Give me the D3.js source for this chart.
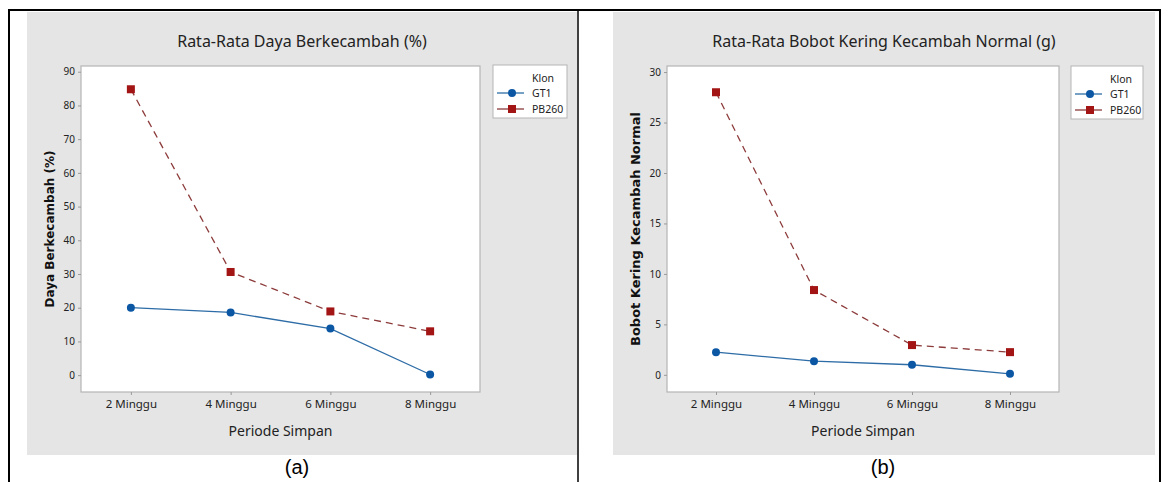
<!DOCTYPE html>
<html>
<head>
<meta charset="utf-8">
<script src="https://cdn.jsdelivr.net/npm/d3@7"></script>
<style>
  body { margin: 0; background: #fff; }
  svg { display: block; }
  text { font-family: "Noto Sans", "Open Sans", sans-serif; }
</style>
</head>
<body>
<svg id="chart" width="1171" height="482"></svg>
<script>
// data
const periods = ["2 Minggu", "4 Minggu", "6 Minggu", "8 Minggu"];
const klon = ["GT1", "PB260"];
const dayaGT1 = [20.0, 18.6, 13.8, 0.2];
const dayaPB260 = [84.8, 30.6, 18.9, 13.0];
const bobotGT1 = [2.25, 1.35, 1.0, 0.1];
const bobotPB260 = [28.0, 8.4, 2.95, 2.25];
const dayaTicks = [0, 10, 20, 30, 40, 50, 60, 70, 80, 90];
const bobotTicks = [0, 5, 10, 15, 20, 25, 30];

const blue = "#0b57a4", blueLine = "#2d6ca6";
const red = "#a31515", redLine = "#8c3a3a";

const svg = d3.select("#chart");

// outer frame and divider
svg.append("rect")
  .attr("x", 9).attr("y", 10).attr("width", 1151).attr("height", 490)
  .attr("fill", "none").attr("stroke", "#000").attr("stroke-width", 2);
svg.append("line")
  .attr("x1", 578).attr("x2", 578).attr("y1", 10).attr("y2", 482)
  .attr("stroke", "#000").attr("stroke-width", 1.5);

function drawPanel(p) {
  const g = svg.append("g");

  g.append("rect")
    .attr("x", p.bg[0]).attr("y", 12)
    .attr("width", p.bg[1] - p.bg[0]).attr("height", 443)
    .attr("fill", "#e5e5e5");

  g.append("rect")
    .attr("x", p.left).attr("y", 66)
    .attr("width", p.right - p.left).attr("height", 392 - 66)
    .attr("fill", "#fff").attr("stroke", "#b5b5b5").attr("stroke-width", 1.2);

  const x = d3.scalePoint().domain(periods).range([p.left, p.right]).padding(0.5);
  const y = d3.scaleLinear().domain(p.domain).range([392, 66]);

  const ya = g.append("g")
    .attr("transform", `translate(${p.left},0)`)
    .call(d3.axisLeft(y).tickValues(p.ticks).tickSize(3).tickPadding(3));
  ya.select(".domain").remove();
  ya.selectAll("line").attr("stroke", "#9a9a9a");
  ya.selectAll("text").attr("fill", "#222").style("font-size", "10px");

  const xa = g.append("g")
    .attr("transform", "translate(0,392)")
    .call(d3.axisBottom(x).tickSize(3).tickPadding(5));
  xa.select(".domain").remove();
  xa.selectAll("line").attr("stroke", "#9a9a9a");
  xa.selectAll("text").attr("fill", "#222").style("font-size", "11.5px");

  // title
  g.append("text")
    .attr("x", (p.bg[0] + p.bg[1]) / 2).attr("y", 47)
    .attr("text-anchor", "middle").attr("fill", "#222")
    .style("font-size", "16px")
    .text(p.title);

  // axis titles
  g.append("text")
    .attr("x", (p.left + p.right) / 2).attr("y", 436)
    .attr("text-anchor", "middle").attr("fill", "#222")
    .style("font-size", "14px")
    .text("Periode Simpan");
  g.append("text")
    .attr("transform", `translate(${p.ytX},229) rotate(-90)`)
    .attr("text-anchor", "middle").attr("fill", "#111")
    .style("font-family", "'DejaVu Sans', sans-serif")
    .style("font-weight", "bold")
    .style("font-size", p.ytSize)
    .text(p.ytitle);

  // series
  const line = d3.line().x((d, i) => x(periods[i])).y(d => y(d));
  g.append("path").datum(p.gt1)
    .attr("d", line).attr("fill", "none")
    .attr("stroke", blueLine).attr("stroke-width", 1.3);
  g.append("path").datum(p.pb)
    .attr("d", line).attr("fill", "none")
    .attr("stroke", redLine).attr("stroke-width", 1.3)
    .attr("stroke-dasharray", "7,5");

  g.selectAll(".dot").data(p.gt1).enter().append("circle")
    .attr("cx", (d, i) => x(periods[i])).attr("cy", d => y(d))
    .attr("r", 4).attr("fill", blue);
  g.selectAll(".sq").data(p.pb).enter().append("rect")
    .attr("x", (d, i) => x(periods[i]) - 4).attr("y", d => y(d) - 4)
    .attr("width", 8).attr("height", 8).attr("fill", red);

  // legend
  const lg = g.append("g").attr("transform", `translate(${p.leg[0]},${p.leg[1]})`);
  lg.append("rect")
    .attr("width", p.leg[2]).attr("height", 53)
    .attr("fill", "#fff").attr("stroke", "#b5b5b5");
  lg.append("text").attr("x", 39).attr("y", 17)
    .attr("fill", "#222").style("font-size", "10.5px").text("Klon");
  klon.forEach((k, i) => {
    const yy = 28 + i * 16;
    lg.append("line").attr("x1", 4).attr("x2", 31).attr("y1", yy).attr("y2", yy)
      .attr("stroke", i ? redLine : blueLine).attr("stroke-width", 1.3);
    if (i) {
      lg.append("rect").attr("x", 15).attr("y", yy - 4).attr("width", 8).attr("height", 8).attr("fill", red);
    } else {
      lg.append("circle").attr("cx", 19).attr("cy", yy).attr("r", 4).attr("fill", blue);
    }
    lg.append("text").attr("x", 39).attr("y", yy + 4)
      .attr("fill", "#222").style("font-size", "10.5px").text(k);
  });

  // panel label
  svg.append("text")
    .attr("x", p.lab[0]).attr("y", 474)
    .attr("text-anchor", "middle").attr("fill", "#000")
    .style("font-family", "'Liberation Sans', Arial, sans-serif")
    .style("font-size", "20px")
    .text(p.lab[1]);
}

drawPanel({
  bg: [27, 577], left: 81, right: 480,
  domain: [-5, 91.7], ticks: dayaTicks,
  gt1: dayaGT1, pb: dayaPB260,
  title: "Rata-Rata Daya Berkecambah (%)",
  ytitle: "Daya Berkecambah (%)", ytX: 54, ytSize: "12px",
  leg: [493, 65, 74], lab: [297, "(a)"]
});

drawPanel({
  bg: [613, 1155], left: 667, right: 1059,
  domain: [-1.7, 30.6], ticks: bobotTicks,
  gt1: bobotGT1, pb: bobotPB260,
  title: "Rata-Rata Bobot Kering Kecambah Normal (g)",
  ytitle: "Bobot Kering Kecambah Normal", ytX: 640, ytSize: "13px",
  leg: [1071, 66, 72], lab: [883, "(b)"]
});
</script>
</body>
</html>
